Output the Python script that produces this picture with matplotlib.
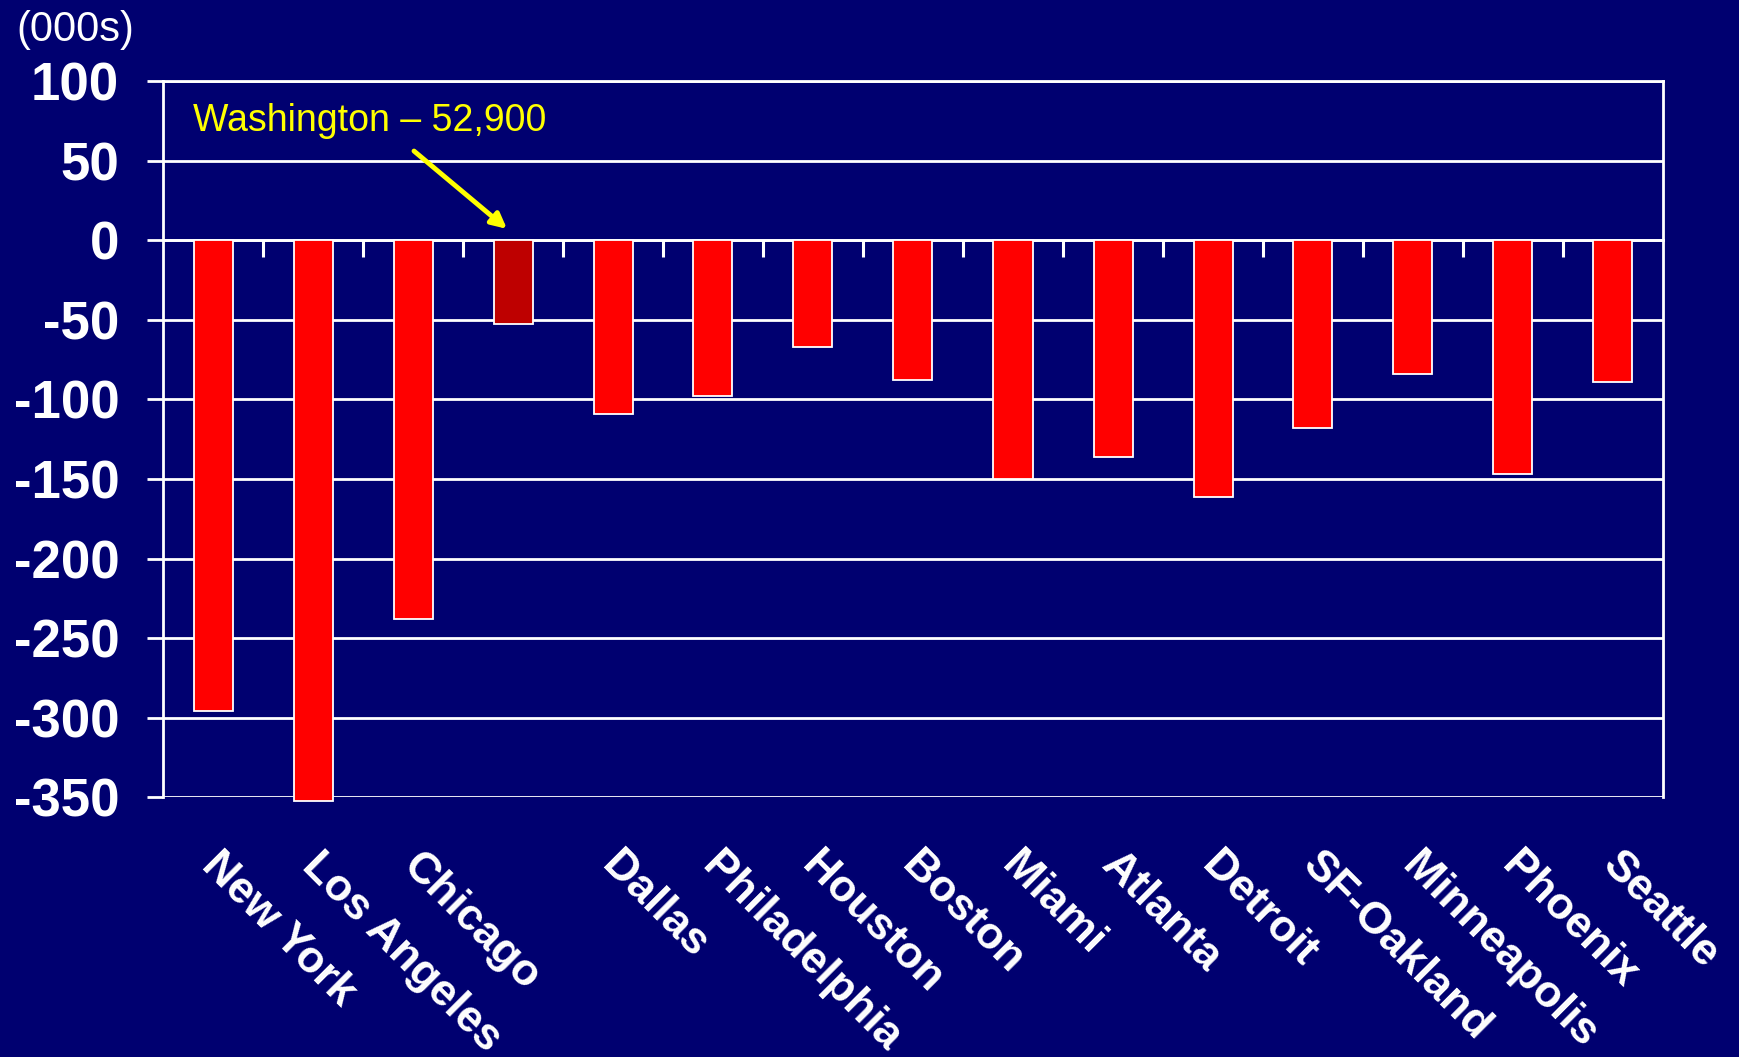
import matplotlib
matplotlib.use("Agg")
import matplotlib.pyplot as plt
from matplotlib.transforms import ScaledTranslation
import numpy as np

# ---- data ----
cities = ["New York", "Los Angeles", "Chicago", "", "Dallas", "Philadelphia",
          "Houston", "Boston", "Miami", "Atlanta", "Detroit", "SF-Oakland",
          "Minneapolis", "Phoenix", "Seattle"]
values = [-296, -352, -238, -52.9, -109, -98, -67, -88, -150, -136, -161,
          -118, -84, -147, -89]
highlight = [False, False, False, True, False, False, False, False, False,
             False, False, False, False, False, False]
yticks = [100, 50, 0, -50, -100, -150, -200, -250, -300, -350]
unit_label = "(000s)"
annotation = "Washington \u2013 52,900"

BG = "#000070"
RED = "#FF0000"
DARK = "#BE0000"
YELLOW = "#FFFF00"

plt.rcParams['font.family'] = ['Liberation Sans', 'DejaVu Sans']

fig = plt.figure(figsize=(17.39, 10.57), dpi=100, facecolor=BG)
ax = fig.add_axes([163/1739, 1 - 797.4/1057, 1500/1739, (797.4-81)/1057])
ax.set_facecolor(BG)

x = np.arange(len(cities))
colors = [DARK if h else RED for h in highlight]
bars = ax.bar(x, values, width=0.39, color=colors, edgecolor="white",
              linewidth=1.3, zorder=3)
for b in bars:
    b.set_clip_on(False)

ax.set_xlim(-0.5, len(cities) - 0.5)
ax.set_ylim(yticks[-1], yticks[0])
ax.set_axisbelow(True)
ax.set_yticks(yticks)
ax.set_yticklabels([str(v) for v in yticks], fontsize=38, fontweight="bold",
                   color="white")
ax.yaxis.grid(True, color="white", linewidth=2.0)
ax.tick_params(axis="y", length=11.5, width=2.0, color="white", pad=20)

ax.set_xticks(x)
ax.set_xticklabels(cities, rotation=-45, ha="left", va="top",
                   rotation_mode="anchor", fontsize=32, fontweight="bold",
                   color="white")
ax.tick_params(axis="x", length=0, pad=34)
offset = ScaledTranslation(0.10, 0, fig.dpi_scale_trans)
for lbl in ax.get_xticklabels():
    lbl.set_transform(lbl.get_transform() + offset)

for s in ax.spines.values():
    s.set_color("white")
    s.set_linewidth(2.0)
ax.spines["bottom"].set_visible(False)

# zero line ticks at category boundaries
zero_pos = (0 - yticks[-1]) / (yticks[0] - yticks[-1])
sec = ax.secondary_xaxis(zero_pos)
sec.set_xticks(np.arange(len(cities) - 1) + 0.5)
sec.set_xticklabels([])
sec.tick_params(direction="in", length=12, width=2.2, color="white")
for s in sec.spines.values():
    s.set_color("white")
    s.set_linewidth(2.0)

# unit label
fig.text(16/1739, 1 - 30/1057, unit_label, fontsize=30, color="white",
         ha="left", va="center")

# annotation
wi = highlight.index(True)
ax.text(-0.2, 75, annotation, fontsize=27, color=YELLOW, ha="left",
        va="center", zorder=5)
ax.annotate("", xy=(wi - 0.06, values[wi] + 60), xytext=(wi - 0.99, 56),
            zorder=5,
            arrowprops=dict(arrowstyle="-|>,head_length=0.9,head_width=0.45",
                            color=YELLOW, lw=3.5, shrinkA=0, shrinkB=0))

fig.savefig("out.png", dpi=100, facecolor=BG)
